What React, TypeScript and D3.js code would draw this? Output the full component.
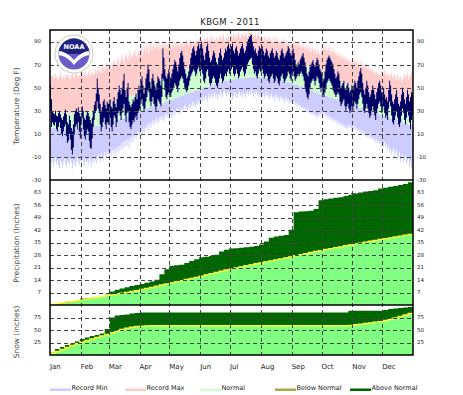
import React, { useEffect, useRef } from 'react';
import * as d3 from 'd3';

// month labels and first day of each month (day of year, 0-based)
const months = ['Jan', 'Feb', 'Mar', 'Apr', 'May', 'Jun', 'Jul', 'Aug', 'Sep', 'Oct', 'Nov', 'Dec'];
const monthStart = [0, 31, 59, 90, 120, 151, 181, 212, 243, 273, 304, 334];

// daily temperatures (deg F), Jan 1 .. Dec 31
const recordMax = [
  62, 60, 61, 59, 58, 62, 60, 57, 58, 60, 63, 59, 57, 60, 58, 61, 59, 62, 60, 58, 57, 61, 63, 60, 58, 62, 64, 60, 59, 61, 63,
  61, 63, 60, 62, 64, 59, 61, 63, 65, 60, 62, 64, 61, 63, 66, 62, 65, 68, 64, 66, 63, 67, 69, 65, 70, 68, 72, 66,
  68, 70, 66, 72, 69, 74, 71, 68, 73, 76, 70, 72, 75, 78, 74, 71, 77, 80, 76, 73, 78, 82, 75, 79, 77, 80, 83, 78, 76, 80, 82,
  80, 84, 88, 78, 83, 86, 81, 89, 84, 79, 87, 90, 82, 86, 88, 83, 85, 90, 86, 82, 88, 84, 87, 90, 85, 89, 87, 84, 90, 88,
  86, 88, 84, 87, 89, 85, 88, 86, 90, 87, 85, 89, 88, 86, 90, 87, 89, 91, 88, 86, 90, 92, 89, 87, 91, 88, 90, 92, 89, 91, 93,
  90, 92, 88, 91, 93, 89, 92, 94, 90, 93, 91, 95, 92, 89, 93, 91, 94, 92, 90, 95, 93, 91, 94, 96, 92, 90, 94, 93, 95, 91,
  94, 96, 93, 97, 95, 92, 96, 94, 98, 95, 93, 97, 96, 94, 98, 95, 97, 93, 96, 99, 97, 98, 95, 96, 94, 97, 93, 95, 98, 96, 94,
  93, 95, 91, 94, 92, 90, 93, 91, 94, 89, 92, 90, 93, 88, 91, 94, 90, 92, 89, 91, 88, 90, 93, 89, 87, 91, 88, 90, 86, 89, 87,
  90, 88, 91, 87, 89, 86, 88, 90, 85, 87, 84, 88, 86, 83, 87, 85, 82, 86, 84, 81, 85, 83, 80, 84, 82, 79, 83, 81, 78, 82,
  86, 84, 87, 83, 85, 82, 84, 86, 81, 83, 80, 84, 82, 79, 81, 78, 80, 77, 79, 76, 78, 75, 77, 74, 76, 73, 75, 72, 74, 71, 73,
  74, 72, 75, 71, 73, 70, 72, 69, 71, 73, 68, 70, 67, 69, 71, 66, 68, 65, 67, 64, 66, 63, 65, 62, 64, 61, 63, 60, 62, 64,
  64, 62, 65, 61, 63, 60, 62, 59, 61, 63, 58, 60, 62, 57, 59, 61, 56, 58, 60, 55, 57, 59, 62, 58, 60, 63, 57, 59, 61, 64, 60,
];
const recordMin = [
  -12, -15, -10, -18, -14, -11, -16, -13, -17, -20, -12, -15, -18, -14, -11, -16, -19, -13, -15, -17, -12, -14, -20, -16, -13, -18, -15, -11, -14, -17, -13,
  -16, -12, -14, -18, -11, -15, -13, -17, -10, -14, -19, -12, -15, -9, -13, -16, -11, -8, -12, -14, -7, -10, -13, -6, -9, -11, -5, -8,
  -8, -5, -10, -3, -7, -4, -9, -2, -6, -1, -5, 0, -4, 2, -3, 3, -1, 5, 0, 4, -2, 6, 2, 8, 3, 7, 10, 5, 9, 12, 8,
  10, 14, 8, 12, 16, 11, 15, 18, 13, 17, 20, 15, 19, 22, 17, 21, 24, 19, 23, 20, 25, 22, 26, 23, 21, 27, 24, 28, 25, 27,
  25, 28, 24, 27, 30, 26, 29, 32, 28, 31, 27, 30, 33, 29, 32, 35, 31, 34, 30, 33, 36, 32, 35, 38, 34, 37, 33, 36, 39, 35, 38,
  36, 40, 38, 42, 39, 43, 41, 38, 44, 40, 42, 45, 41, 43, 46, 42, 44, 40, 45, 43, 47, 44, 42, 46, 48, 45, 43, 47, 44, 46,
  42, 44, 40, 43, 46, 42, 45, 41, 44, 47, 43, 45, 42, 46, 44, 41, 45, 47, 43, 46, 44, 48, 45, 42, 46, 44, 47, 43, 45, 42, 44,
  44, 42, 45, 41, 43, 46, 42, 44, 40, 43, 45, 41, 43, 39, 42, 44, 40, 42, 38, 41, 43, 39, 41, 37, 40, 42, 38, 40, 36, 39, 37,
  38, 36, 39, 35, 37, 34, 36, 33, 35, 32, 34, 31, 33, 30, 32, 29, 31, 28, 30, 27, 29, 26, 28, 25, 27, 24, 26, 28, 25, 27,
  28, 26, 29, 25, 27, 24, 26, 23, 25, 22, 24, 21, 23, 20, 22, 19, 21, 18, 20, 17, 19, 16, 18, 15, 17, 14, 16, 18, 15, 17, 14,
  16, 14, 17, 13, 15, 12, 14, 11, 13, 10, 12, 9, 11, 8, 10, 7, 9, 6, 8, 5, 7, 4, 6, 3, 5, 2, 4, 1, 3, 0,
  2, 0, 3, -2, 1, -4, -1, -6, -3, -8, -5, -2, -10, -7, -4, -12, -9, -6, -14, -11, -8, -15, -12, -9, -16, -13, -10, -18, -14, -20, -12,
];
const actualHigh = [
  52, 40, 30, 28, 27, 30, 26, 25, 28, 30, 27, 24, 22, 25, 28, 31, 27, 20, 18, 26, 22, 15, 12, 18, 27, 30, 32, 29, 33, 28, 25,
  28, 34, 30, 24, 22, 26, 30, 28, 25, 22, 19, 24, 30, 35, 38, 45, 58, 50, 44, 36, 30, 33, 38, 40, 35, 32, 38, 36,
  36, 40, 34, 32, 38, 42, 36, 33, 40, 46, 52, 48, 44, 50, 56, 62, 48, 42, 50, 54, 38, 35, 33, 36, 40, 38, 42, 45, 40, 48, 52,
  48, 56, 60, 52, 45, 50, 58, 62, 70, 66, 55, 50, 58, 62, 56, 52, 48, 54, 60, 58, 56, 52, 62, 84, 76, 66, 60, 58, 62, 66,
  60, 58, 62, 66, 70, 74, 72, 68, 64, 70, 76, 80, 82, 78, 72, 66, 62, 58, 60, 64, 70, 76, 80, 84, 86, 82, 78, 82, 86, 88, 84,
  86, 90, 84, 78, 74, 80, 86, 88, 82, 76, 72, 74, 78, 82, 80, 76, 72, 70, 76, 80, 84, 78, 74, 76, 80, 84, 82, 86, 88, 84,
  84, 86, 88, 82, 80, 84, 86, 82, 78, 80, 84, 86, 88, 84, 80, 82, 86, 90, 92, 94, 95, 96, 90, 86, 82, 84, 80, 78, 82, 86, 84,
  84, 86, 82, 78, 80, 84, 82, 78, 76, 80, 82, 84, 80, 76, 78, 82, 80, 76, 74, 78, 82, 84, 80, 76, 78, 80, 82, 86, 84, 80, 78,
  82, 84, 80, 74, 70, 68, 72, 70, 74, 76, 78, 80, 76, 72, 68, 62, 60, 64, 68, 70, 72, 74, 70, 68, 72, 76, 74, 70, 66, 64,
  62, 56, 58, 64, 70, 74, 76, 78, 76, 74, 72, 70, 66, 62, 58, 60, 64, 62, 56, 50, 52, 54, 56, 50, 48, 52, 54, 50, 46, 48, 52,
  48, 52, 56, 54, 50, 56, 60, 64, 67, 62, 54, 48, 44, 50, 56, 52, 46, 42, 44, 48, 52, 48, 44, 40, 46, 50, 54, 56, 52, 46,
  46, 50, 44, 40, 42, 38, 48, 56, 52, 44, 38, 36, 40, 44, 48, 42, 36, 34, 38, 44, 50, 46, 40, 36, 42, 48, 44, 38, 42, 46, 44,
];
const actualLow = [
  30, 16, 20, 18, 17, 20, 14, 12, 16, 20, 15, 10, 8, 12, 16, 18, 8, 2, 4, 10, 5, -4, -8, -2, 10, 16, 18, 14, 20, 12, 6,
  18, 24, 14, 8, 5, 10, 14, 12, 4, -2, -3, 6, 16, 22, 28, 30, 38, 32, 28, 18, 12, 16, 20, 24, 18, 14, 20, 18,
  20, 24, 16, 12, 18, 26, 24, 16, 20, 28, 30, 26, 22, 28, 32, 36, 26, 20, 28, 30, 20, 16, 14, 18, 22, 20, 24, 26, 22, 28, 30,
  32, 36, 40, 34, 30, 32, 38, 42, 48, 46, 38, 34, 38, 42, 36, 34, 30, 34, 40, 38, 36, 34, 42, 58, 56, 48, 42, 40, 44, 46,
  44, 42, 46, 48, 50, 54, 52, 50, 46, 52, 56, 58, 60, 58, 54, 50, 48, 46, 48, 52, 56, 60, 62, 64, 66, 64, 60, 62, 66, 68, 64,
  64, 66, 62, 56, 54, 58, 64, 66, 60, 54, 52, 54, 58, 60, 58, 54, 52, 50, 54, 58, 62, 58, 54, 56, 60, 62, 60, 64, 66, 62,
  64, 66, 68, 62, 60, 62, 66, 62, 58, 60, 64, 66, 68, 64, 60, 62, 66, 70, 72, 74, 75, 76, 70, 66, 62, 64, 60, 58, 62, 66, 64,
  64, 66, 62, 58, 60, 62, 60, 56, 54, 58, 60, 62, 58, 54, 56, 60, 58, 54, 52, 56, 60, 62, 58, 54, 56, 58, 60, 64, 62, 58, 56,
  62, 64, 60, 56, 58, 60, 62, 60, 62, 64, 62, 60, 56, 50, 46, 42, 40, 44, 50, 54, 56, 58, 56, 52, 56, 60, 58, 54, 50, 46,
  50, 44, 42, 46, 50, 54, 56, 58, 56, 54, 52, 48, 46, 44, 42, 44, 46, 44, 38, 34, 36, 38, 40, 34, 30, 34, 36, 32, 28, 30, 34,
  30, 34, 38, 36, 32, 36, 40, 44, 46, 42, 36, 30, 28, 32, 36, 32, 28, 24, 26, 30, 34, 30, 26, 22, 28, 32, 36, 38, 34, 28,
  30, 34, 28, 24, 26, 22, 32, 38, 34, 26, 20, 18, 22, 26, 30, 24, 18, 16, 20, 26, 32, 28, 22, 18, 24, 30, 26, 20, 14, 22, 26,
];

// 5-day periods (73 of them): normals and cumulative precip / snow (inches)
const normalHigh = [
  29, 28.5, 28, 28, 28, 28.5, 29, 29.5, 30, 31, 32, 33.5, 35, 37, 39, 41, 43, 45,
  47.5, 50, 52.5, 55, 57, 59, 61, 63, 65, 66.5, 68, 69.5, 71, 72.5, 74, 75, 76, 77,
  77.5, 78, 78.5, 78.5, 78.5, 78.5, 78, 77.5, 77, 76, 75, 74, 73, 71.5, 70, 68.5, 67, 65,
  63, 61, 59, 57, 55, 53, 51, 49, 47, 45, 43.5, 42, 40, 38.5, 37, 35, 34, 32.5, 31.5,
];
const normalLow = [
  15, 14.5, 14, 14, 14, 14.5, 15, 15.5, 16, 16.5, 17.5, 19, 20.5, 22, 23.5, 25, 27, 28.5,
  30, 32, 33.5, 35, 36.5, 38, 39.5, 41, 43, 44.5, 46, 47.5, 49, 50.5, 52, 53.5, 54.5, 56,
  57, 57.5, 58, 58.5, 59, 59, 59, 58.5, 58, 57, 56, 55, 54, 52.5, 51, 49.5, 48, 46,
  44.5, 43, 41.5, 40, 38.5, 37, 35.5, 34, 32.5, 31, 29.5, 28, 26.5, 25, 23.5, 22, 20.5, 19, 17.5,
];
const precipActual = [
  0.3, 0.5, 0.8, 1.1, 1.4, 1.8, 3.6, 3.9, 4.1, 4.3, 5.0, 5.8, 7.5, 8.6, 9.3, 10.0, 10.6, 11.2,
  11.7, 12.4, 13.2, 14.2, 17.2, 20.0, 22.0, 22.2, 22.6, 23.5, 24.6, 25.6, 26.7, 27.0, 27.4, 28.2, 30.0, 31.0,
  31.6, 31.8, 32.0, 32.3, 32.6, 33.0, 33.9, 35.5, 37.6, 38.4, 38.8, 39.2, 42.2, 52.0, 52.3, 52.5, 52.8, 53.8,
  58.6, 59.2, 59.6, 60.0, 60.4, 61.0, 61.8, 62.4, 63.0, 63.5, 63.9, 64.3, 65.2, 65.7, 66.2, 66.6, 67.2, 67.8, 68.7,
];
const precipNormal = [
  0.4, 0.9, 1.3, 1.7, 2.1, 2.5, 2.9, 3.4, 3.8, 4.3, 4.7, 5.2, 5.7, 6.2, 6.6, 7.1, 7.6, 8.1,
  8.7, 9.3, 9.9, 10.6, 11.2, 11.8, 12.4, 13.0, 13.7, 14.3, 14.9, 15.5, 16.2, 16.9, 17.6, 18.3, 18.9, 19.6,
  20.2, 20.8, 21.4, 22.0, 22.5, 23.1, 23.6, 24.2, 24.7, 25.3, 25.8, 26.4, 27.0, 27.6, 28.2, 28.8, 29.4, 30.0,
  30.5, 31.1, 31.6, 32.1, 32.6, 33.2, 33.7, 34.2, 34.7, 35.2, 35.7, 36.2, 36.7, 37.2, 37.6, 38.1, 38.6, 39.1, 39.6,
];
const snowActual = [
  5, 12, 16, 20, 23, 27, 32, 35, 38, 40, 43, 52, 75, 79, 80, 81, 83, 84,
  85, 85, 85, 85, 85, 85, 85, 85, 85, 85, 85, 85, 85, 85, 85, 85, 85, 85,
  85, 85, 85, 85, 85, 85, 85, 85, 85, 85, 85, 85, 85, 85, 85, 85, 85, 85,
  85, 85, 85, 85, 85, 85, 88.5, 88.5, 88.5, 88.5, 88.5, 88.5, 88.5, 90, 92, 93, 94, 95, 96,
];
const snowNormal = [
  3.5, 7, 11, 15, 19, 22.5, 26, 29, 32, 35, 38, 41, 44.5, 48, 51, 53.5, 55.5, 57,
  57.8, 58.2, 58.5, 58.5, 58.5, 58.5, 58.5, 58.5, 58.5, 58.5, 58.5, 58.5, 58.5, 58.5, 58.5, 58.5, 58.5, 58.5,
  58.5, 58.5, 58.5, 58.5, 58.5, 58.5, 58.5, 58.5, 58.5, 58.5, 58.5, 58.5, 58.5, 58.5, 58.5, 58.5, 58.5, 58.5,
  58.5, 58.5, 58.5, 58.5, 58.5, 58.5, 59.3, 60.5, 61.8, 63, 64.3, 65.5, 66.7, 69, 71.5, 74, 77, 80, 83,
];

const tempTicks = [90, 70, 50, 30, 10, -10];
const precipTicks = [7, 14, 21, 28, 35, 42, 49, 56, 63];
const snowTicks = [25, 50, 75];

const legendLabels = ['Record Min', 'Record Max', 'Normal', 'Below Normal', 'Above Normal'];
const legendColors = ['#ccccff', '#ffcccc', '#ccffcc', '#aaaa44', '#006600'];

const FONT = 'DejaVu Sans, Verdana, sans-serif';

const App = () => {
  const svgRef = useRef<SVGSVGElement>(null);

  useEffect(() => {
    if (!svgRef.current) return;
    const svg = d3.select(svgRef.current);
    svg.selectAll('*').remove();

    const left = 50, right = 413;
    const x = d3.scaleLinear().domain([0, 365]).range([left, right]);
    const yT = d3.scaleLinear().domain([-30, 100]).range([180, 30]);
    const yP = d3.scaleLinear().domain([0, 70]).range([305, 180]);
    const yS = d3.scaleLinear().domain([0, 100]).range([355, 305]);

    svg.append('rect').attr('width', 463).attr('height', 395).attr('fill', '#fff');

    // step areas: one step per day (temps) or per 5-day period (cumulative)
    const stepArea = (n: number, span: number, lo: (i: number) => number, hi: (i: number) => number) => {
      const idx = d3.range(n + 1);
      const last = (i: number) => Math.min(i, n - 1);
      return d3.area<number>()
        .curve(d3.curveStepAfter)
        .x(i => x(Math.min(365, i * span)))
        .y0(i => lo(last(i)))
        .y1(i => hi(last(i)))(idx);
    };

    const nDays = recordMax.length;
    const per = (d: number) => Math.min(Math.floor(d / 5), normalHigh.length - 1);

    // temperature panel
    const tg = svg.append('g');
    tg.append('path').attr('fill', '#ffcccc')
      .attr('d', stepArea(nDays, 1, d => yT(normalHigh[per(d)]), d => yT(Math.max(recordMax[d], normalHigh[per(d)]))));
    tg.append('path').attr('fill', '#ccffcc')
      .attr('d', stepArea(nDays, 1, d => yT(normalLow[per(d)]), d => yT(normalHigh[per(d)])));
    tg.append('path').attr('fill', '#ccccff')
      .attr('d', stepArea(nDays, 1, d => yT(Math.min(recordMin[d], normalLow[per(d)])), d => yT(normalLow[per(d)])));
    tg.append('path').attr('fill', '#000066')
      .attr('d', stepArea(nDays, 1, d => yT(actualLow[d]), d => yT(actualHigh[d])));

    // cumulative panels (precip, snow)
    const drawCumulative = (actual: number[], normal: number[], y: d3.ScaleLinear<number, number>) => {
      const g = svg.append('g');
      const n = actual.length;
      g.append('path').attr('fill', '#80ff80')
        .attr('d', stepArea(n, 5, () => y(0), k => y(Math.min(actual[k], normal[k]))));
      g.append('path').attr('fill', '#006600')
        .attr('d', stepArea(n, 5, k => y(normal[k]), k => y(Math.max(actual[k], normal[k]))));
      g.append('path').attr('fill', '#aaaa44')
        .attr('d', stepArea(n, 5, k => y(Math.min(actual[k], normal[k])), k => y(normal[k])));
      const pts: [number, number][] = d3.range(n).map(k => [x(k * 5), y(normal[k])]);
      pts.push([x(365), y(normal[n - 1])]);
      g.append('path')
        .attr('d', d3.line().curve(d3.curveStepAfter)(pts))
        .attr('fill', 'none').attr('stroke', '#ffff33').attr('stroke-width', 1.3);
    };
    drawCumulative(precipActual, precipNormal, yP);
    drawCumulative(snowActual, snowNormal, yS);

    // grid
    const grid = svg.append('g')
      .attr('stroke', '#444').attr('stroke-width', 1)
      .attr('stroke-dasharray', '4,3').attr('shape-rendering', 'crispEdges');
    const hLines = [...tempTicks.map(v => yT(v)), ...precipTicks.map(v => yP(v)), ...snowTicks.map(v => yS(v))];
    grid.selectAll('.h').data(hLines).join('line')
      .attr('x1', left).attr('x2', right)
      .attr('y1', d => Math.round(d) + 0.5).attr('y2', d => Math.round(d) + 0.5);
    grid.selectAll('.v').data(monthStart.slice(1)).join('line')
      .attr('x1', d => Math.round(x(d)) + 0.5).attr('x2', d => Math.round(x(d)) + 0.5)
      .attr('y1', 30).attr('y2', 355);

    // frame
    svg.append('rect').attr('x', left).attr('y', 30).attr('width', right - left).attr('height', 325)
      .attr('fill', 'none').attr('stroke', '#000').attr('stroke-width', 1.5);
    [180, 305].forEach(v => {
      svg.append('line').attr('x1', left).attr('x2', right).attr('y1', v).attr('y2', v)
        .attr('stroke', '#000').attr('stroke-width', 1.5);
    });

    // tick labels on both sides
    const ticks: [number, number][] = [
      ...tempTicks.map(v => [v, yT(v)] as [number, number]),
      [-30, yT(-30)],
      ...precipTicks.map(v => [v, yP(v)] as [number, number]),
      ...snowTicks.map(v => [v, yS(v)] as [number, number]),
    ];
    const tl = svg.append('g').attr('font-family', FONT).attr('font-size', 5.5).attr('fill', '#222');
    tl.selectAll('.tl').data(ticks).join('text')
      .attr('x', 41).attr('y', d => d[1]).attr('dy', '0.35em').attr('text-anchor', 'end')
      .text(d => d[0]);
    tl.selectAll('.tr').data(ticks).join('text')
      .attr('x', 417).attr('y', d => d[1]).attr('dy', '0.35em').attr('text-anchor', 'start')
      .text(d => d[0]);

    // month labels
    svg.append('g').attr('font-family', FONT).attr('font-size', 7).attr('fill', '#222')
      .selectAll('text').data(months).join('text')
      .attr('x', (_, i) => x(monthStart[i])).attr('y', 369)
      .text(d => d);

    // axis titles
    const titles: [string, number][] = [
      ['Temperature (Deg F)', 106], ['Precipitation (Inches)', 243], ['Snow (inches)', 332],
    ];
    svg.append('g').attr('font-family', FONT).attr('font-size', 7.5).attr('fill', '#444')
      .selectAll('text').data(titles).join('text')
      .attr('transform', d => `translate(19,${d[1]}) rotate(-90)`)
      .attr('text-anchor', 'middle')
      .text(d => d[0]);

    // title
    svg.append('text').attr('x', 230).attr('y', 25).attr('text-anchor', 'middle')
      .attr('font-family', FONT).attr('font-size', 8.5).attr('fill', '#222')
      .attr('letter-spacing', 0.4)
      .text('KBGM - 2011');

    // legend
    const lg = svg.append('g').attr('font-family', FONT).attr('font-size', 6.5).attr('fill', '#222');
    legendLabels.forEach((label, i) => {
      lg.append('rect').attr('x', 50 + i * 75).attr('y', 388.5).attr('width', 21).attr('height', 2.5)
        .attr('fill', legendColors[i]);
      lg.append('text').attr('x', 71.5 + i * 75).attr('y', 390).text(label);
    });

    // NOAA logo
    const logo = svg.append('g').attr('transform', 'translate(74,54)');
    svg.append('defs').append('clipPath').attr('id', 'noaaClip')
      .append('circle').attr('r', 15.5);
    logo.append('circle').attr('r', 19).attr('fill', '#fff').attr('stroke', '#bbb').attr('stroke-width', 0.8);
    const inner = logo.append('g').attr('clip-path', 'url(#noaaClip)');
    inner.append('rect').attr('x', -16).attr('y', -16).attr('width', 32).attr('height', 32).attr('fill', '#6a5cc4');
    inner.append('rect').attr('x', -16).attr('y', -16).attr('width', 32).attr('height', 16).attr('fill', '#1f2380');
    inner.append('path')
      .attr('d', 'M-16,-3 Q-8,-3 0,6 Q8,-3 16,-3 L16,1 Q8,1 0,11 Q-8,1 -16,1 Z')
      .attr('fill', '#fff');
    logo.append('text').attr('y', -5).attr('text-anchor', 'middle')
      .attr('font-family', FONT).attr('font-size', 6.5).attr('font-weight', 'bold').attr('fill', '#fff')
      .text('NOAA');
  }, []);

  return (
    <svg ref={svgRef} width={463} height={395}
      style={{ position: 'absolute', left: 0, top: 0, display: 'block' }} />
  );
};

export default App;
